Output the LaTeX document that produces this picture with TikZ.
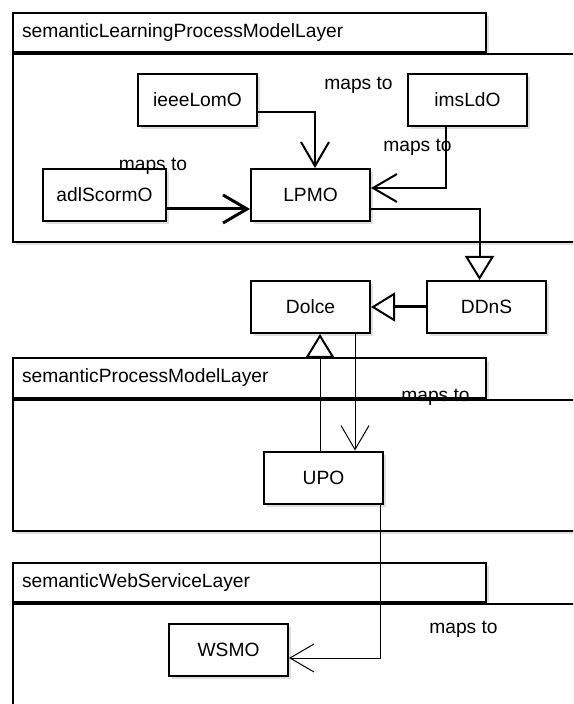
\documentclass[tikz,border=0pt]{standalone}
\usepackage{fontspec}
\setmainfont{Liberation Sans}
\usetikzlibrary{arrows.meta,positioning,shadows}

\begin{document}
\begin{tikzpicture}[
    x=0.5pt, y=-0.5pt,
    font=\fontsize{9.6}{11}\selectfont,
    shade/.style={drop shadow={shadow xshift=1.5pt, shadow yshift=-1.5pt, opacity=0.25}},
    cls/.style={rectangle, draw, line width=1pt, fill=white, minimum width=59.5pt, minimum height=26pt, shade},
    pkgtab/.style={rectangle, draw, line width=1pt, fill=white, anchor=north west, minimum height=19.5pt, text width=227.5pt, inner xsep=4.5pt, align=left, shade},
    pkgbody/.style={rectangle, draw, line width=1pt, fill=white, anchor=north west, minimum width=300pt, shade},
    mapsto/.style={-{Straight Barb[length=12pt,width=14pt]}},
    isa/.style={-{Triangle[open,line width=1pt,length=12pt,width=14.5pt]}},
    lbl/.style={inner sep=0pt}
]
\useasboundingbox (0,0) rectangle (573,704);
\clip (0,0) rectangle (573,704);

% Packages
\node[pkgtab] (lptab) at (12,12) {semanticLearningProcessModelLayer};
\node[pkgbody, minimum height=94pt] (lpbody) at (lptab.south west) {};
\node[pkgtab, minimum height=20pt] (pmtab) at (12,357) {semanticProcessModelLayer};
\node[pkgbody, minimum height=65.5pt] (pmbody) at (pmtab.south west) {};
\node[pkgtab] (wstab) at (12,562) {semanticWebServiceLayer};
\node[pkgbody, minimum height=65pt] (wsbody) at (wstab.south west) {};

% Ontologies
\node[cls] (ieee) at (197.5,100) {ieeeLomO};
\node[cls, right=74.5pt of ieee] (ims) {imsLdO};
\node[cls, minimum width=61.5pt] (adl) at (104.5,195) {adlScormO};
\node[cls, right=41.5pt of adl] (lpmo) {LPMO};
\node[cls, below=29pt of lpmo] (dolce) {Dolce};
\node[cls, right=27.5pt of dolce] (ddns) {DDnS};
\node[cls] (upo) at (323.5,477.5) {UPO};
\node[cls] (wsmo) at (228.5,650) {WSMO};

% Mappings
\draw[mapsto, line width=1pt] ([yshift=-6pt]ieee.east) -| ([xshift=2.25pt]lpmo.north);
\draw[mapsto, line width=1pt] ([xshift=-10.75pt]ims.south) |- ([yshift=3.5pt]lpmo.east);
\draw[mapsto, line width=1.5pt] ([yshift=-7pt]adl.east) -- ([yshift=-7pt]lpmo.west);
\draw[mapsto, line width=0.5pt] ([xshift=22.25pt]dolce.south) -- ([xshift=22.25pt]dolce.south |- upo.north);
\draw[mapsto, line width=0.5pt] ([xshift=28.25pt]upo.south) |- ([yshift=-4pt]wsmo.east);

% Specialisations
\draw[isa, line width=1pt] ([yshift=-7pt]lpmo.east) -| ([xshift=-3.5pt]ddns.north);
\draw[isa, line width=1.5pt] (ddns) -- (dolce);
\draw[isa, line width=0.5pt] ([xshift=-1.75pt]upo.north) -- ([xshift=-1.75pt]upo.north |- dolce.south);

% Labels
\node[lbl] (mapsieee) at (358.5,85) {maps to};
\node[lbl] (mapsims) at (417.5,147) {maps to};
\node[lbl] (mapsadl) at (153,166) {maps to};
\node[lbl] (mapsupo) at (435.5,397) {maps to};
\node[lbl] (mapswsmo) at (463.5,629) {maps to};

\end{tikzpicture}
\end{document}
